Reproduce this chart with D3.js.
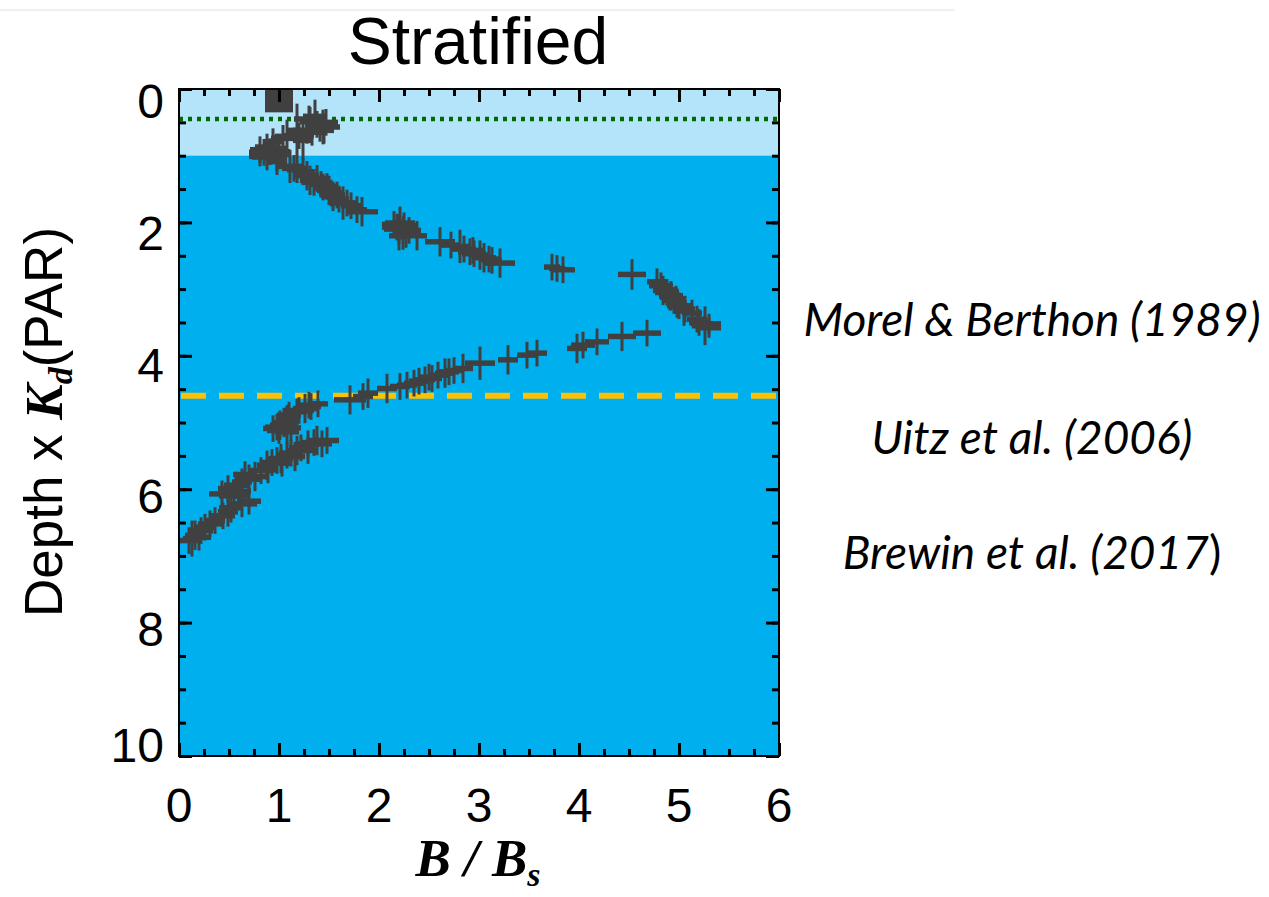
<!DOCTYPE html>
<html>
  <head>
    <title>Stratified</title>
    <meta http-equiv="Content-Type" content="text/html; charset=UTF-8">
    <script src="https://d3js.org/d3.v7.min.js"></script>
    <style>
      body { margin: 0; background: #fff; }
    </style>
  </head>

  <body>

    <div id="chart"></div>

    <script>
      // [B/Bs, depth*Kd, half error in B/Bs, half error in depth]
      var upperBranch = [
        [1.36,0.41,.12,.25],[1.47,0.50,.12,.20],[1.31,0.49,.10,.22],[1.38,0.53,.12,.20],
        [1.41,0.59,.14,.20],[1.44,0.57,.17,.26],[1.28,0.62,.14,.20],[1.18,0.62,.10,.40],
        [1.30,0.45,.15,.20],[1.45,0.62,.10,.20],[1.20,0.70,.15,.20],[1.33,0.65,.12,.20],
        [1.24,0.77,.10,.30],[1.08,0.71,.12,.25],[1.04,0.74,.12,.20],[0.94,0.79,.10,.20],
        [0.88,0.87,.12,.20],[0.81,0.91,.10,.20],[0.91,0.94,.20,.20],[0.81,1.01,.11,.15],
        [0.85,0.95,.15,.20],[0.90,0.98,.18,.15],[0.95,0.89,.12,.20],[1.00,0.98,.12,.22],
        [0.88,1.02,.15,.20],[0.98,1.03,.10,.20],[0.98,1.09,.10,.20],[1.11,1.16,.12,.25],
        [1.15,1.19,.12,.20],[1.18,1.21,.10,.20],[1.24,1.24,.10,.20],[1.28,1.30,.12,.22],
        [1.31,1.37,.10,.22],[1.38,1.34,.10,.20],[1.35,1.40,.12,.20],[1.42,1.43,.12,.20],
        [1.44,1.47,.10,.20],[1.48,1.46,.10,.20],[1.50,1.52,.12,.22],[1.52,1.56,.12,.20],
        [1.54,1.61,.10,.22],[1.58,1.59,.08,.20],[1.60,1.65,.10,.20],[1.64,1.71,.12,.25],
        [1.68,1.71,.10,.20],[1.72,1.75,.10,.20],[1.78,1.81,.10,.20],[1.83,1.84,.16,.22],
        [2.15,2.03,.12,.20],[2.21,2.01,.15,.25],[2.25,2.05,.12,.20],[2.18,2.07,.15,.20],
        [2.20,2.10,.15,.22],[2.30,2.12,.12,.20],[2.24,2.16,.10,.25],[2.27,2.18,.10,.20],
        [2.20,2.20,.10,.22],[2.38,2.20,.10,.22],[2.61,2.29,.15,.22],[2.72,2.34,.10,.20],
        [2.81,2.36,.10,.25],[2.85,2.40,.12,.20],[2.94,2.42,.10,.20],[2.91,2.44,.12,.20],
        [2.95,2.47,.12,.20],[3.01,2.49,.10,.22],[3.05,2.53,.12,.22],[3.10,2.55,.10,.20],
        [3.13,2.57,.10,.20],[3.21,2.61,.15,.22],[3.73,2.67,.08,.20],[3.78,2.69,.08,.20],
        [3.84,2.71,.12,.20],[4.53,2.78,.14,.23],[4.78,2.89,.10,.20],[4.82,2.95,.12,.20],
        [4.84,3.02,.10,.22],[4.88,3.05,.12,.20],[4.92,3.10,.12,.22],[4.91,3.12,.10,.20],
        [4.97,3.15,.10,.20],[4.95,3.17,.10,.20],[4.98,3.21,.10,.22],[5.00,3.25,.12,.20],
        [5.06,3.30,.10,.20],[5.05,3.33,.10,.22],[5.13,3.36,.10,.20],[5.18,3.45,.10,.20],
        [5.20,3.50,.10,.20],[5.30,3.52,.12,.15],[5.26,3.55,.13,.29],[5.30,3.58,.12,.15]
      ];
      var lowerBranch = [
        [4.68,3.66,.14,.20],[4.43,3.71,.14,.22],[4.18,3.79,.12,.20],[4.04,3.84,.12,.20],
        [3.98,3.89,.10,.22],[3.58,3.96,.10,.20],[3.48,3.99,.10,.20],[3.29,4.06,.10,.22],
        [3.01,4.11,.15,.25],[2.84,4.19,.10,.22],[2.75,4.22,.10,.20],[2.70,4.24,.10,.20],
        [2.66,4.26,.10,.22],[2.59,4.29,.10,.20],[2.50,4.32,.10,.20],[2.53,4.34,.10,.20],
        [2.46,4.36,.10,.20],[2.40,4.38,.10,.20],[2.35,4.41,.10,.20],[2.28,4.44,.10,.20],
        [2.21,4.46,.10,.20],[2.08,4.49,.10,.22],[1.89,4.56,.10,.22],[1.84,4.61,.10,.20],
        [1.71,4.66,.16,.22],[1.39,4.72,.10,.20],[1.30,4.74,.10,.20],[1.32,4.76,.10,.20],
        [1.26,4.79,.12,.22],[1.20,4.82,.15,.20],[1.18,4.84,.10,.20],[1.10,4.89,.12,.20],
        [1.08,4.94,.10,.20],[1.05,5.00,.12,.22],[1.01,5.04,.10,.22],[0.98,5.07,.12,.20],
        [1.12,5.08,.10,.20],[0.94,5.09,.10,.20],[1.00,5.12,.12,.20],[1.08,5.14,.12,.20],
        [1.48,5.27,.12,.20],[1.38,5.27,.10,.22],[1.35,5.30,.12,.20],[1.29,5.32,.12,.20],
        [1.43,5.32,.10,.20],[1.22,5.38,.12,.20],[1.18,5.42,.10,.22],[1.29,5.42,.10,.20],
        [1.12,5.46,.12,.20],[1.08,5.49,.10,.20],[1.16,5.51,.10,.22],[1.02,5.54,.12,.22],
        [0.98,5.57,.10,.20],[0.93,5.60,.12,.20],[1.03,5.61,.10,.20],[0.88,5.64,.10,.22],
        [0.89,5.71,.10,.20],[0.82,5.72,.12,.20],[0.66,5.78,.12,.20],[0.76,5.81,.12,.22],
        [0.70,5.85,.12,.22],[0.63,5.89,.10,.20],[0.57,5.94,.12,.20],[0.49,5.99,.10,.20],
        [0.60,6.03,.12,.20],[0.43,6.07,.13,.20],[0.55,6.10,.15,.20],[0.70,6.18,.12,.20],
        [0.63,6.22,.15,.20],[0.52,6.28,.12,.22],[0.49,6.34,.10,.22],[0.44,6.40,.12,.20],
        [0.36,6.47,.10,.20],[0.31,6.52,.12,.20],[0.26,6.57,.10,.20],[0.22,6.62,.12,.20],
        [0.16,6.69,.10,.22],[0.20,6.72,.12,.20],[0.13,6.74,.09,.27],[0.10,6.77,.10,.20]
      ];
      // surface marker: [B/Bs, depth, half width, half height]
      var surfacePoint = [1.0, 0.175, 0.14, 0.175];

      var xTicks = [0, 1, 2, 3, 4, 5, 6];
      var yTicks = [0, 2, 4, 6, 8, 10];
      var euphoticTop = 1.0;     // light band bottom
      var greenLineDepth = 0.45; // dotted
      var yellowLineDepth = 4.6; // dashed
      var references = ["Morel & Berthon (1989)", "Uitz et al. (2006)", "Brewin et al. (2017"];

      var W = 1269, H = 897;
      var pLeft = 179, pRight = 779, pTop = 89, pBottom = 756;
      var yLabelShift = [12, 10, 9, 7, 6, -11];

      var svg = d3.select("#chart").append("svg").attr("width", W).attr("height", H);

      var x = d3.scaleLinear().domain([0, 6]).range([pLeft, pRight]);
      var y = d3.scaleLinear().domain([0, 10]).range([pTop, pBottom]);

      svg.append("line").attr("x1", 0).attr("x2", 955).attr("y1", 10).attr("y2", 10)
        .attr("stroke", "#e2e2e2").attr("stroke-width", 1);

      // backgrounds
      svg.append("rect").attr("x", x(0)).attr("y", y(0)).attr("width", x(6) - x(0))
        .attr("height", y(10) - y(0)).attr("fill", "#00b0ee");
      svg.append("rect").attr("x", x(0)).attr("y", y(0)).attr("width", x(6) - x(0))
        .attr("height", y(euphoticTop) - y(0)).attr("fill", "#b4e4fa");

      // dashed reference lines
      svg.append("line").attr("x1", x(0)).attr("x2", x(6))
        .attr("y1", y(greenLineDepth)).attr("y2", y(greenLineDepth))
        .attr("stroke", "#006a00").attr("stroke-width", 4.5).attr("stroke-dasharray", "4,5");
      svg.append("line").attr("x1", x(0) + 2).attr("x2", x(6))
        .attr("y1", y(yellowLineDepth)).attr("y2", y(yellowLineDepth))
        .attr("stroke", "#ffc000").attr("stroke-width", 6).attr("stroke-dasharray", "25,13");

      // data crosses
      var pts = upperBranch.concat(lowerBranch);
      var g = svg.append("g").attr("stroke", "#404040");
      g.selectAll("line.h").data(pts).enter().append("line").attr("class", "h")
        .attr("x1", function(d) { return x(d[0] - d[2]); })
        .attr("x2", function(d) { return x(d[0] + d[2]); })
        .attr("y1", function(d) { return y(d[1]); })
        .attr("y2", function(d) { return y(d[1]); })
        .attr("stroke-width", 5.5);
      g.selectAll("line.v").data(pts).enter().append("line").attr("class", "v")
        .attr("x1", function(d) { return x(d[0]); })
        .attr("x2", function(d) { return x(d[0]); })
        .attr("y1", function(d) { return y(d[1] - d[3]); })
        .attr("y2", function(d) { return y(d[1] + d[3]); })
        .attr("stroke-width", 3);

      svg.append("rect")
        .attr("x", x(surfacePoint[0] - surfacePoint[2]))
        .attr("y", y(surfacePoint[1] - surfacePoint[3]))
        .attr("width", x(surfacePoint[0] + surfacePoint[2]) - x(surfacePoint[0] - surfacePoint[2]))
        .attr("height", y(surfacePoint[1] + surfacePoint[3]) - y(surfacePoint[1] - surfacePoint[3]))
        .attr("fill", "#404040");

      // ticks on all four sides
      function ticks(axis, scale, vals, len, pos) {
        var a = axis(scale).tickValues(vals).tickSize(-len).tickFormat("");
        var gg = svg.append("g").attr("transform", pos).call(a);
        gg.select(".domain").remove();
        gg.selectAll("line").attr("stroke", "#000").attr("stroke-width", 3);
      }
      var xMinor = d3.range(0, 6.01, 0.25), yMinor = d3.range(0, 10.01, 0.5);
      ticks(d3.axisBottom, x, xMinor, 7, "translate(0," + pBottom + ")");
      ticks(d3.axisTop, x, xMinor, 7, "translate(0," + pTop + ")");
      ticks(d3.axisBottom, x, xTicks, 13, "translate(0," + pBottom + ")");
      ticks(d3.axisTop, x, xTicks, 13, "translate(0," + pTop + ")");
      ticks(d3.axisLeft, y, yMinor, 7, "translate(" + pLeft + ",0)");
      ticks(d3.axisRight, y, yMinor, 7, "translate(" + pRight + ",0)");
      ticks(d3.axisLeft, y, yTicks, 13, "translate(" + pLeft + ",0)");
      ticks(d3.axisRight, y, yTicks, 13, "translate(" + pRight + ",0)");

      svg.append("rect").attr("x", pLeft).attr("y", pTop).attr("width", pRight - pLeft)
        .attr("height", pBottom - pTop).attr("fill", "none").attr("stroke", "#000").attr("stroke-width", 2);

      // tick labels
      var sans = "'Liberation Sans', Arial, sans-serif";
      svg.selectAll("text.yl").data(yTicks).enter().append("text")
        .attr("x", 164).attr("y", function(d, i) { return y(d) + yLabelShift[i]; }).attr("dy", "0.36em")
        .attr("text-anchor", "end").style("font-family", sans).style("font-size", "48px")
        .text(function(d) { return d; });
      svg.selectAll("text.xl").data(xTicks).enter().append("text")
        .attr("x", function(d) { return x(d); }).attr("y", 822)
        .attr("text-anchor", "middle").style("font-family", sans).style("font-size", "48px")
        .text(function(d) { return d; });

      svg.append("text").attr("x", 478).attr("y", 64).attr("text-anchor", "middle")
        .style("font-family", sans).style("font-size", "66px").text("Stratified");

      // axis titles
      var serif = "'Liberation Serif', 'Times New Roman', serif";
      var yt = svg.append("text").attr("transform", "translate(62,422) rotate(-90)")
        .attr("text-anchor", "middle").style("font-family", sans).style("font-size", "53px");
      yt.append("tspan").text("Depth x ");
      yt.append("tspan").style("font-family", serif).style("font-weight", "bold")
        .style("font-style", "italic").text("K");
      yt.append("tspan").style("font-family", serif).style("font-weight", "bold")
        .style("font-style", "italic").style("font-size", "34px").attr("dy", 10).text("d");
      yt.append("tspan").attr("dy", -10).text("(PAR)");

      var xt = svg.append("text").attr("x", 478).attr("y", 876).attr("text-anchor", "middle")
        .style("font-family", serif).style("font-weight", "bold").style("font-style", "italic")
        .style("font-size", "53px");
      xt.append("tspan").text("B / B");
      xt.append("tspan").style("font-size", "34px").attr("dy", 10).text("s");

      // reference labels
      var refY = [320, 438, 553];
      svg.selectAll("text.ref").data(references).enter().append("text")
        .attr("x", 1032).attr("y", function(d, i) { return refY[i]; }).attr("dy", "0.35em")
        .attr("text-anchor", "middle").style("font-family", "Lato, sans-serif")
        .style("font-style", "italic").style("font-size", "46px")
        .each(function(d, i) {
          var t = d3.select(this);
          t.append("tspan").text(d);
          if (i === 2) t.append("tspan").style("font-style", "normal").text(")");
        });
    </script>
  </body>
</html>
